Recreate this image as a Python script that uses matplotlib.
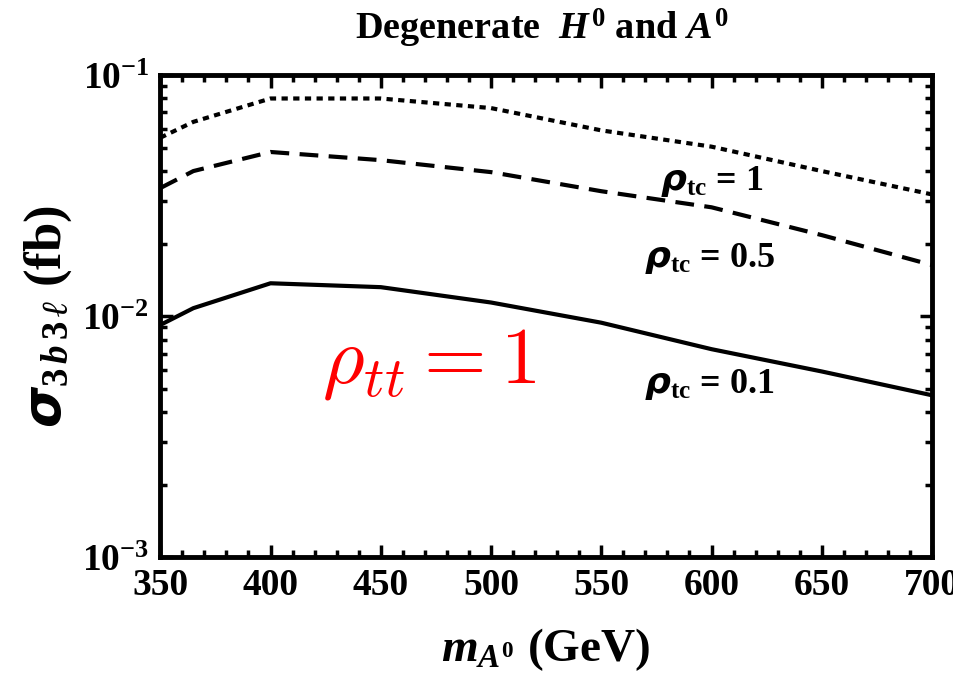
import matplotlib
matplotlib.use('Agg')
import matplotlib.pyplot as plt
from matplotlib.ticker import MultipleLocator, LogLocator, LogFormatterMathtext

plt.rcParams['font.family'] = 'Liberation Serif'
plt.rcParams['font.weight'] = 'bold'
plt.rcParams['axes.labelweight'] = 'bold'
plt.rcParams['mathtext.fontset'] = 'custom'
plt.rcParams['mathtext.rm'] = 'Liberation Serif:bold'
plt.rcParams['mathtext.it'] = 'Liberation Serif:italic:bold'
plt.rcParams['mathtext.bf'] = 'Liberation Serif:bold'
plt.rcParams['mathtext.fallback'] = 'stix'

# masses (GeV) and cross sections (fb)
mass = [350, 365, 400, 450, 500, 550, 600, 650, 700]
sigma_rho1 = [0.055, 0.064, 0.080, 0.080, 0.073, 0.059, 0.0505, 0.040, 0.032]
sigma_rho05 = [0.034, 0.040, 0.048, 0.0444, 0.0396, 0.033, 0.0283, 0.0217, 0.0163]
sigma_rho01 = [0.0092, 0.0108, 0.0137, 0.0132, 0.0114, 0.0094, 0.0073, 0.0059, 0.0047]

fig = plt.figure(figsize=(9.54, 6.83), dpi=100)
ax = fig.add_axes([0.168, 0.184, 0.809, 0.706])

ax.plot(mass, sigma_rho1, color='black', lw=3, linestyle=(0, (1.5, 1.3)))
ax.plot(mass, sigma_rho05, color='black', lw=3, linestyle=(0, (4.5, 2.5)))
ax.plot(mass, sigma_rho01, color='black', lw=3, linestyle='-')

ax.set_yscale('log')
ax.set_xlim(350, 700)
ax.set_ylim(1e-3, 1e-1)

ax.xaxis.set_major_locator(MultipleLocator(50))
ax.xaxis.set_minor_locator(MultipleLocator(10))
ax.yaxis.set_major_locator(LogLocator(base=10))
ax.yaxis.set_minor_locator(LogLocator(base=10, subs=range(2, 10)))
ax.yaxis.set_major_formatter(LogFormatterMathtext())

ax.tick_params(which='both', direction='in', top=True, right=True, labelsize=27)
ax.tick_params(which='major', length=9, width=2.5, pad=8)
ax.tick_params(which='minor', length=5, width=2.5)
for s in ax.spines.values():
    s.set_linewidth(3.5)

ax.text(600, 0.0363, r'$\boldsymbol{\rho}_{\rm tc}$ = 1', fontsize=26, ha='center', va='center')
ax.text(599, 0.0174, r'$\boldsymbol{\rho}_{\rm tc}$ = 0.5', fontsize=26, ha='center', va='center')
ax.text(599, 0.0052, r'$\boldsymbol{\rho}_{\rm tc}$ = 0.1', fontsize=26, ha='center', va='center')
ax.text(472, 0.0063, r'$\rho_{tt} = 1$', fontsize=58, color='red', ha='center', va='center',
        math_fontfamily='cm', fontweight='normal')

ax.set_xlabel(r'$m_{A^0}$ (GeV)', fontsize=34, labelpad=16)
ax.set_ylabel(r'$\boldsymbol{\sigma}_{3\,b\,3\,\ell}$ (fb)', fontsize=38, labelpad=6)
fig.text(0.568, 0.959, r'Degenerate  $H^0$ and $A^0$', fontsize=27.5, ha='center', va='center')

fig.savefig('out.png', dpi=100, facecolor='white')
